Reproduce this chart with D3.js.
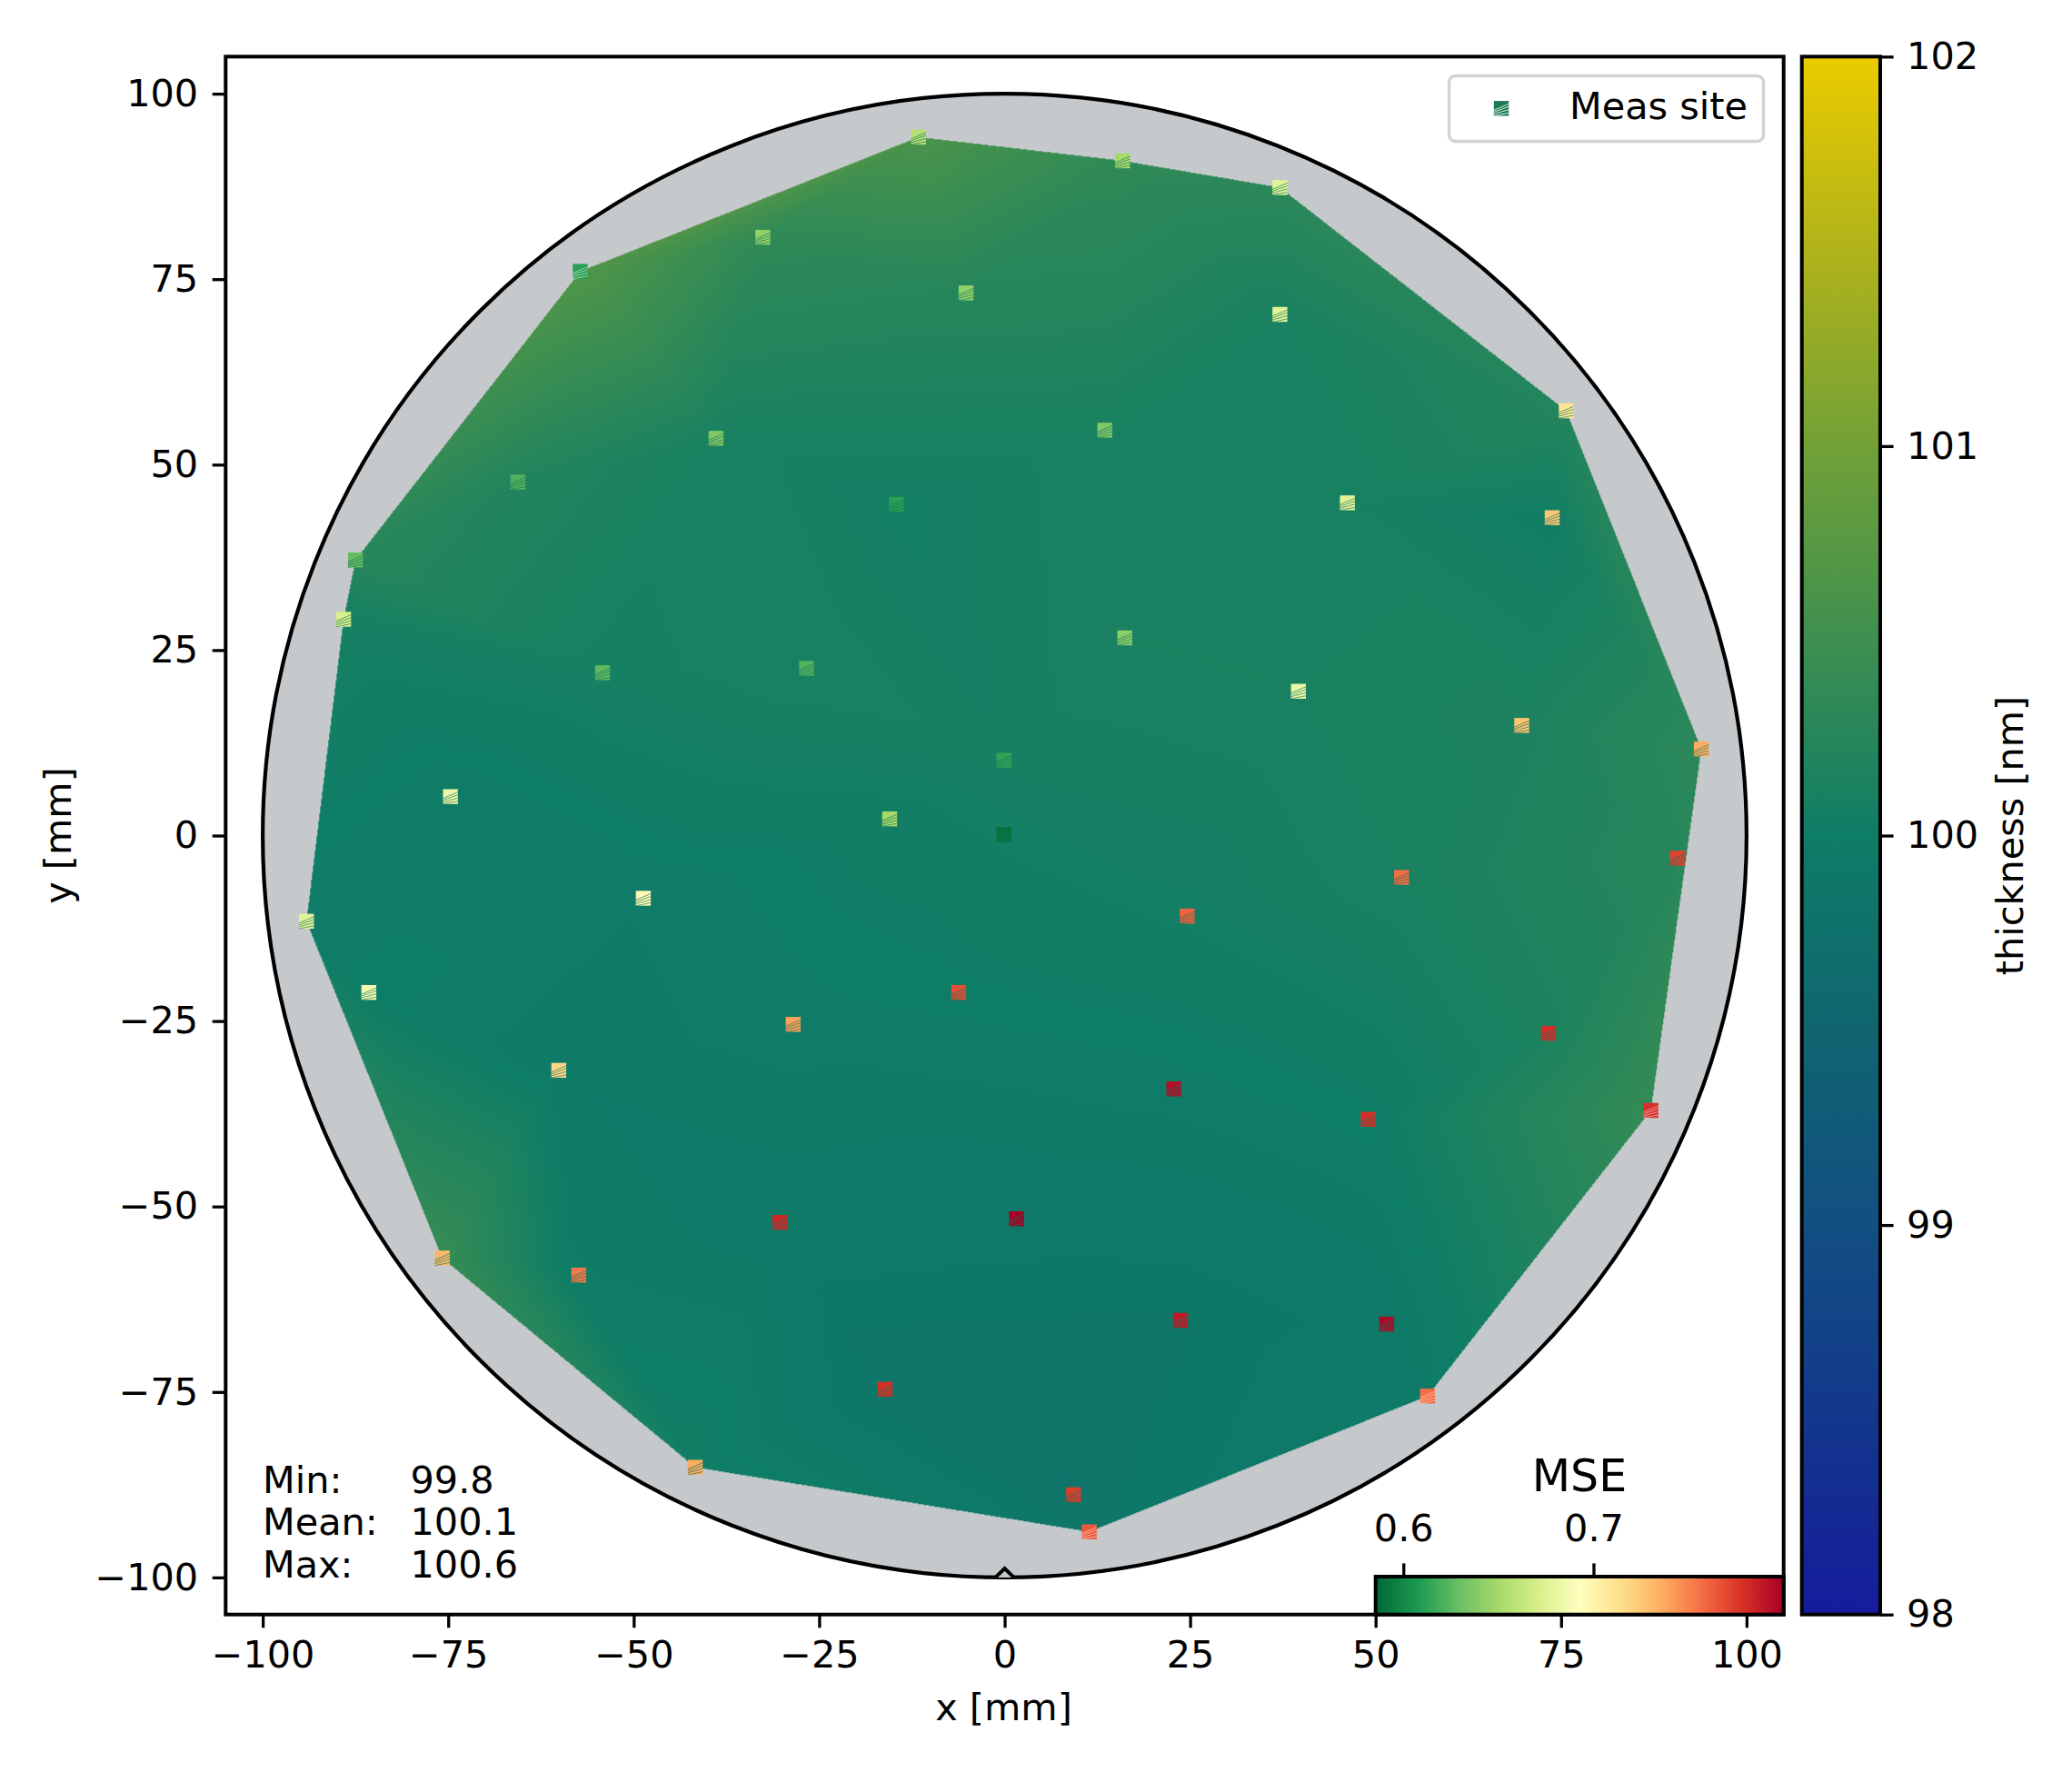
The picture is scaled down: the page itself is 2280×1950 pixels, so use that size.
<!DOCTYPE html>
<html><head><meta charset="utf-8">
<script src="https://cdn.jsdelivr.net/npm/d3@7"></script>
<style>html,body{margin:0;padding:0;background:#fff}svg{display:block}text{font-family:"DejaVu Sans";fill:#000}</style>
</head><body><svg id="c" width="2280" height="1950"></svg>
<script>
const siteX=[-11.6,15.9,37.1,75.7,-57.2,-32.6,-5.2,37.1,13.5,-38.9,-65.6,-14.6,46.2,73.8,-87.5,-89.1,-54.2,-26.7,16.2,39.6,69.7,93.9,-74.7,-0.1,-15.5,-0.1,90.7,53.5,-48.7,24.6,-94.1,-85.7,-6.2,-28.5,73.3,-60.1,22.8,49,87.1,1.6,-30.3,-75.8,-57.4,23.7,51.5,-16.1,57,-41.7,9.3,11.4];
const siteY=[94.15,90.95,87.35,57.25,76.05,80.65,73.15,70.25,54.65,53.55,47.65,44.65,44.85,42.85,37.15,29.15,21.95,22.55,26.65,19.45,14.85,11.65,5.25,10.15,2.25,0.15,-3.05,-5.65,-8.45,-10.85,-11.55,-21.15,-21.15,-25.45,-26.65,-31.65,-34.15,-38.25,-37.05,-51.65,-52.15,-56.95,-59.25,-65.35,-65.85,-74.65,-75.55,-85.15,-88.85,-93.85];
const thickness=[100.62,100.35,100.3,100.22,100.68,100.35,100.25,100.12,100.12,100.12,100.2,100.05,100.1,100.03,100.25,100.08,100.08,100.12,100.12,100.12,100.15,100.3,99.97,100.08,100.03,100.05,100.25,100.12,99.97,100.05,99.97,100,100,99.98,100.15,99.95,99.98,100,100.4,99.92,99.93,100.42,99.97,99.88,99.92,99.86,99.95,100.03,99.82,99.88];
const mse=[0.656,0.65,0.676,0.71,0.611,0.643,0.643,0.676,0.637,0.637,0.622,0.611,0.676,0.725,0.628,0.671,0.626,0.622,0.641,0.682,0.727,0.736,0.682,0.613,0.65,0.59,0.772,0.757,0.697,0.761,0.676,0.686,0.768,0.74,0.779,0.718,0.794,0.779,0.779,0.8,0.783,0.731,0.753,0.789,0.796,0.779,0.757,0.736,0.774,0.764];
const xTicks=[-100,-75,-50,-25,0,25,50,75,100];
const yTicks=[-100,-75,-50,-25,0,25,50,75,100];
const thickTicks=[98,99,100,101,102];
const mseTicks=[0.6,0.7];
const statLabels=["Min:","Mean:","Max:"];
const statValues=["99.8","100.1","100.6"];
const notchX=[-1.25,0,1.25];
const notchY=[-100,-98.8,-100];
const thickStops=[98,98.5,99,99.5,100,100.5,101,101.5,102];
const thickColors=["#151c9c","#13378c","#124f82","#106570","#0e7d66","#3e8f50","#72a137","#b0b31a","#ebcc00"];
const mseColors=["#006837","#1a9850","#66bd63","#a6d96a","#d9ef8b","#ffffbf","#fee08b","#fdae61","#f46d43","#d73027","#a50026"];
const mseMin=0.5854, mseMax=0.8;
const whiteHatch=[4,38,46,49];

const L=248.3,R=1962.7,T=62.3,B=1776.7,FS=41.4;
const x=d3.scaleLinear().domain([-105,105]).range([L,R]);
const y=d3.scaleLinear().domain([-105,105]).range([B,T]);
const cThick=d3.scaleLinear().domain(thickStops).range(thickColors).interpolate(d3.interpolateRgb).clamp(true);
const cMse=d3.scaleLinear().domain(d3.range(11).map(i=>mseMin+(mseMax-mseMin)*i/10)).range(mseColors).clamp(true);
const svg=d3.select("#c");
const defs=svg.append("defs");

// wafer
svg.append("circle").attr("cx",x(0)).attr("cy",y(0)).attr("r",x(100)-x(0)).attr("fill","#c5c9cb");

// interpolated field over Delaunay triangulation
const pts=siteX.map((d,i)=>[d,siteY[i]]);
const del=d3.Delaunay.from(pts);
const cv=document.createElement("canvas");cv.width=Math.ceil(R-L);cv.height=Math.ceil(B-T);
const ctx=cv.getContext("2d");const img=ctx.createImageData(cv.width,cv.height);
const lut=d3.range(1025).map(i=>{const c=d3.rgb(cThick(98+4*i/1024));return [c.r,c.g,c.b];});
const tri=del.triangles;
for(let k=0;k<tri.length;k+=3){
  const a=tri[k],b=tri[k+1],c=tri[k+2];
  const ax=x(siteX[a])-L,ay=y(siteY[a])-T,bx=x(siteX[b])-L,by=y(siteY[b])-T,cx=x(siteX[c])-L,cy=y(siteY[c])-T;
  const den=(by-cy)*(ax-cx)+(cx-bx)*(ay-cy);
  if(Math.abs(den)<1e-6)continue;
  const x0=Math.max(0,Math.floor(Math.min(ax,bx,cx))),x1=Math.min(cv.width-1,Math.ceil(Math.max(ax,bx,cx)));
  const y0=Math.max(0,Math.floor(Math.min(ay,by,cy))),y1=Math.min(cv.height-1,Math.ceil(Math.max(ay,by,cy)));
  for(let py=y0;py<=y1;py++)for(let px=x0;px<=x1;px++){
    const u=px+.5,v=py+.5;
    const w1=((by-cy)*(u-cx)+(cx-bx)*(v-cy))/den,w2=((cy-ay)*(u-cx)+(ax-cx)*(v-cy))/den,w3=1-w1-w2;
    if(w1<-1e-4||w2<-1e-4||w3<-1e-4)continue;
    const val=w1*thickness[a]+w2*thickness[b]+w3*thickness[c];
    const col=lut[Math.max(0,Math.min(1024,Math.round((val-98)/4*1024)))];
    const o=(py*cv.width+px)*4;
    img.data[o]=col[0];img.data[o+1]=col[1];img.data[o+2]=col[2];img.data[o+3]=255;
  }
}
ctx.putImageData(img,0,0);
svg.append("image").attr("x",L).attr("y",T).attr("width",cv.width).attr("height",cv.height).attr("href",cv.toDataURL());

// wafer outline and notch
svg.append("circle").attr("cx",x(0)).attr("cy",y(0)).attr("r",x(100)-x(0)).attr("fill","none").attr("stroke","#000").attr("stroke-width",4.2);
svg.append("path").attr("d",d3.line().x(d=>x(d)).y((d,i)=>y(notchY[i]))(notchX)).attr("fill","#c5c9cb").attr("stroke","#000").attr("stroke-width",4);

// markers
const MS=16.4;
const hatch=[[-8.2,2,8.2,-5],[-8.2,4,8.2,-2],[-8.2,6,8.2,1.5],[-8.2,8.2,8.2,5]];
function marker(g,color,lineColor,lineOp){
  g.append("rect").attr("x",-MS/2).attr("y",-MS/2).attr("width",MS).attr("height",MS).attr("fill",color);
  g.selectAll("line").data(hatch).join("line").attr("x1",d=>d[0]).attr("y1",d=>d[1]).attr("x2",d=>d[2]).attr("y2",d=>d[3])
    .attr("stroke",lineColor).attr("stroke-opacity",lineOp).attr("stroke-width",1);
}
pts.forEach((p,i)=>{
  const g=svg.append("g").attr("transform",`translate(${x(p[0])},${y(p[1])})`);
  const white=whiteHatch.includes(i);
  marker(g,cMse(mse[i]),white?"#fff":"#14725c",white?0.5:0.65);
});

// axes
function styleAxis(g){g.select(".domain").remove();g.selectAll(".tick line").attr("stroke","#000").attr("stroke-width",3.3);g.selectAll("text").attr("font-size",FS).attr("fill","#000").attr("font-family","DejaVu Sans");}
const fmt=d=>String(d).replace("-","\u2212");
svg.append("g").attr("transform",`translate(0,${B})`).call(d3.axisBottom(x).tickValues(xTicks).tickFormat(fmt).tickSize(14.6).tickPadding(14.6)).call(styleAxis);
svg.append("g").attr("transform",`translate(${L},0)`).call(d3.axisLeft(y).tickValues(yTicks).tickFormat(fmt).tickSize(14.6).tickPadding(15.5)).call(styleAxis);
svg.append("rect").attr("x",L).attr("y",T).attr("width",R-L).attr("height",B-T).attr("fill","none").attr("stroke","#000").attr("stroke-width",4);

svg.append("text").attr("x",x(0)-1).attr("y",1893).attr("text-anchor","middle").attr("font-size",FS).text("x [mm]");
svg.append("text").attr("transform",`translate(78,${y(0)}) rotate(-90)`).attr("text-anchor","middle").attr("font-size",FS).text("y [mm]");

// stats
const statY=[1642.7,1689,1735.7];
statLabels.forEach((s,i)=>{
  svg.append("text").attr("x",289).attr("y",statY[i]).attr("font-size",FS).text(s);
  svg.append("text").attr("x",451.5).attr("y",statY[i]).attr("font-size",FS).text(statValues[i]);
});

// thickness colorbar
const cbL=1982.7,cbR=2069;
const cbY=d3.scaleLinear().domain([98,102]).range([B,T]);
const gT=defs.append("linearGradient").attr("id","gT").attr("x1",0).attr("x2",0).attr("y1",1).attr("y2",0);
thickStops.forEach((s,i)=>gT.append("stop").attr("offset",(s-98)/4).attr("stop-color",thickColors[i]));
svg.append("rect").attr("x",cbL).attr("y",T).attr("width",cbR-cbL).attr("height",B-T).attr("fill","url(#gT)").attr("stroke","#000").attr("stroke-width",4);
svg.append("g").attr("transform",`translate(${cbR},0)`).call(d3.axisRight(cbY).tickValues(thickTicks).tickFormat(d3.format("d")).tickSize(14.6).tickPadding(14.5)).call(styleAxis);
svg.append("text").attr("transform",`translate(2226,${y(0)}) rotate(-90)`).attr("text-anchor","middle").attr("font-size",FS).text("thickness [nm]");

// MSE inset colorbar
const iL=x(50),iT=1735;
const mx=d3.scaleLinear().domain([mseMin,mseMax]).range([iL,R]);
const gM=defs.append("linearGradient").attr("id","gM");
mseColors.forEach((c,i)=>gM.append("stop").attr("offset",i/10).attr("stop-color",c));
svg.append("rect").attr("x",iL).attr("y",iT).attr("width",R-iL).attr("height",B-iT).attr("fill","url(#gM)").attr("stroke","#000").attr("stroke-width",4);
svg.append("g").attr("transform",`translate(0,${iT})`).call(d3.axisTop(mx).tickValues(mseTicks).tickFormat(d3.format(".1f")).tickSize(14.6).tickPadding(24)).call(styleAxis);
svg.append("text").attr("x",1738).attr("y",1640.5).attr("text-anchor","middle").attr("font-size",49).text("MSE");

// legend
svg.append("rect").attr("x",1594.5).attr("y",83.5).attr("width",346).attr("height",72).attr("rx",7).attr("fill","#fff").attr("fill-opacity",.8).attr("stroke","#d2d2d2").attr("stroke-width",3.3);
const lg=svg.append("g").attr("transform","translate(1652,119.3)");
marker(lg,"#1a7a50","#fff",0.85);
svg.append("text").attr("x",1727).attr("y",131).attr("font-size",FS).text("Meas site");
</script></body></html>
